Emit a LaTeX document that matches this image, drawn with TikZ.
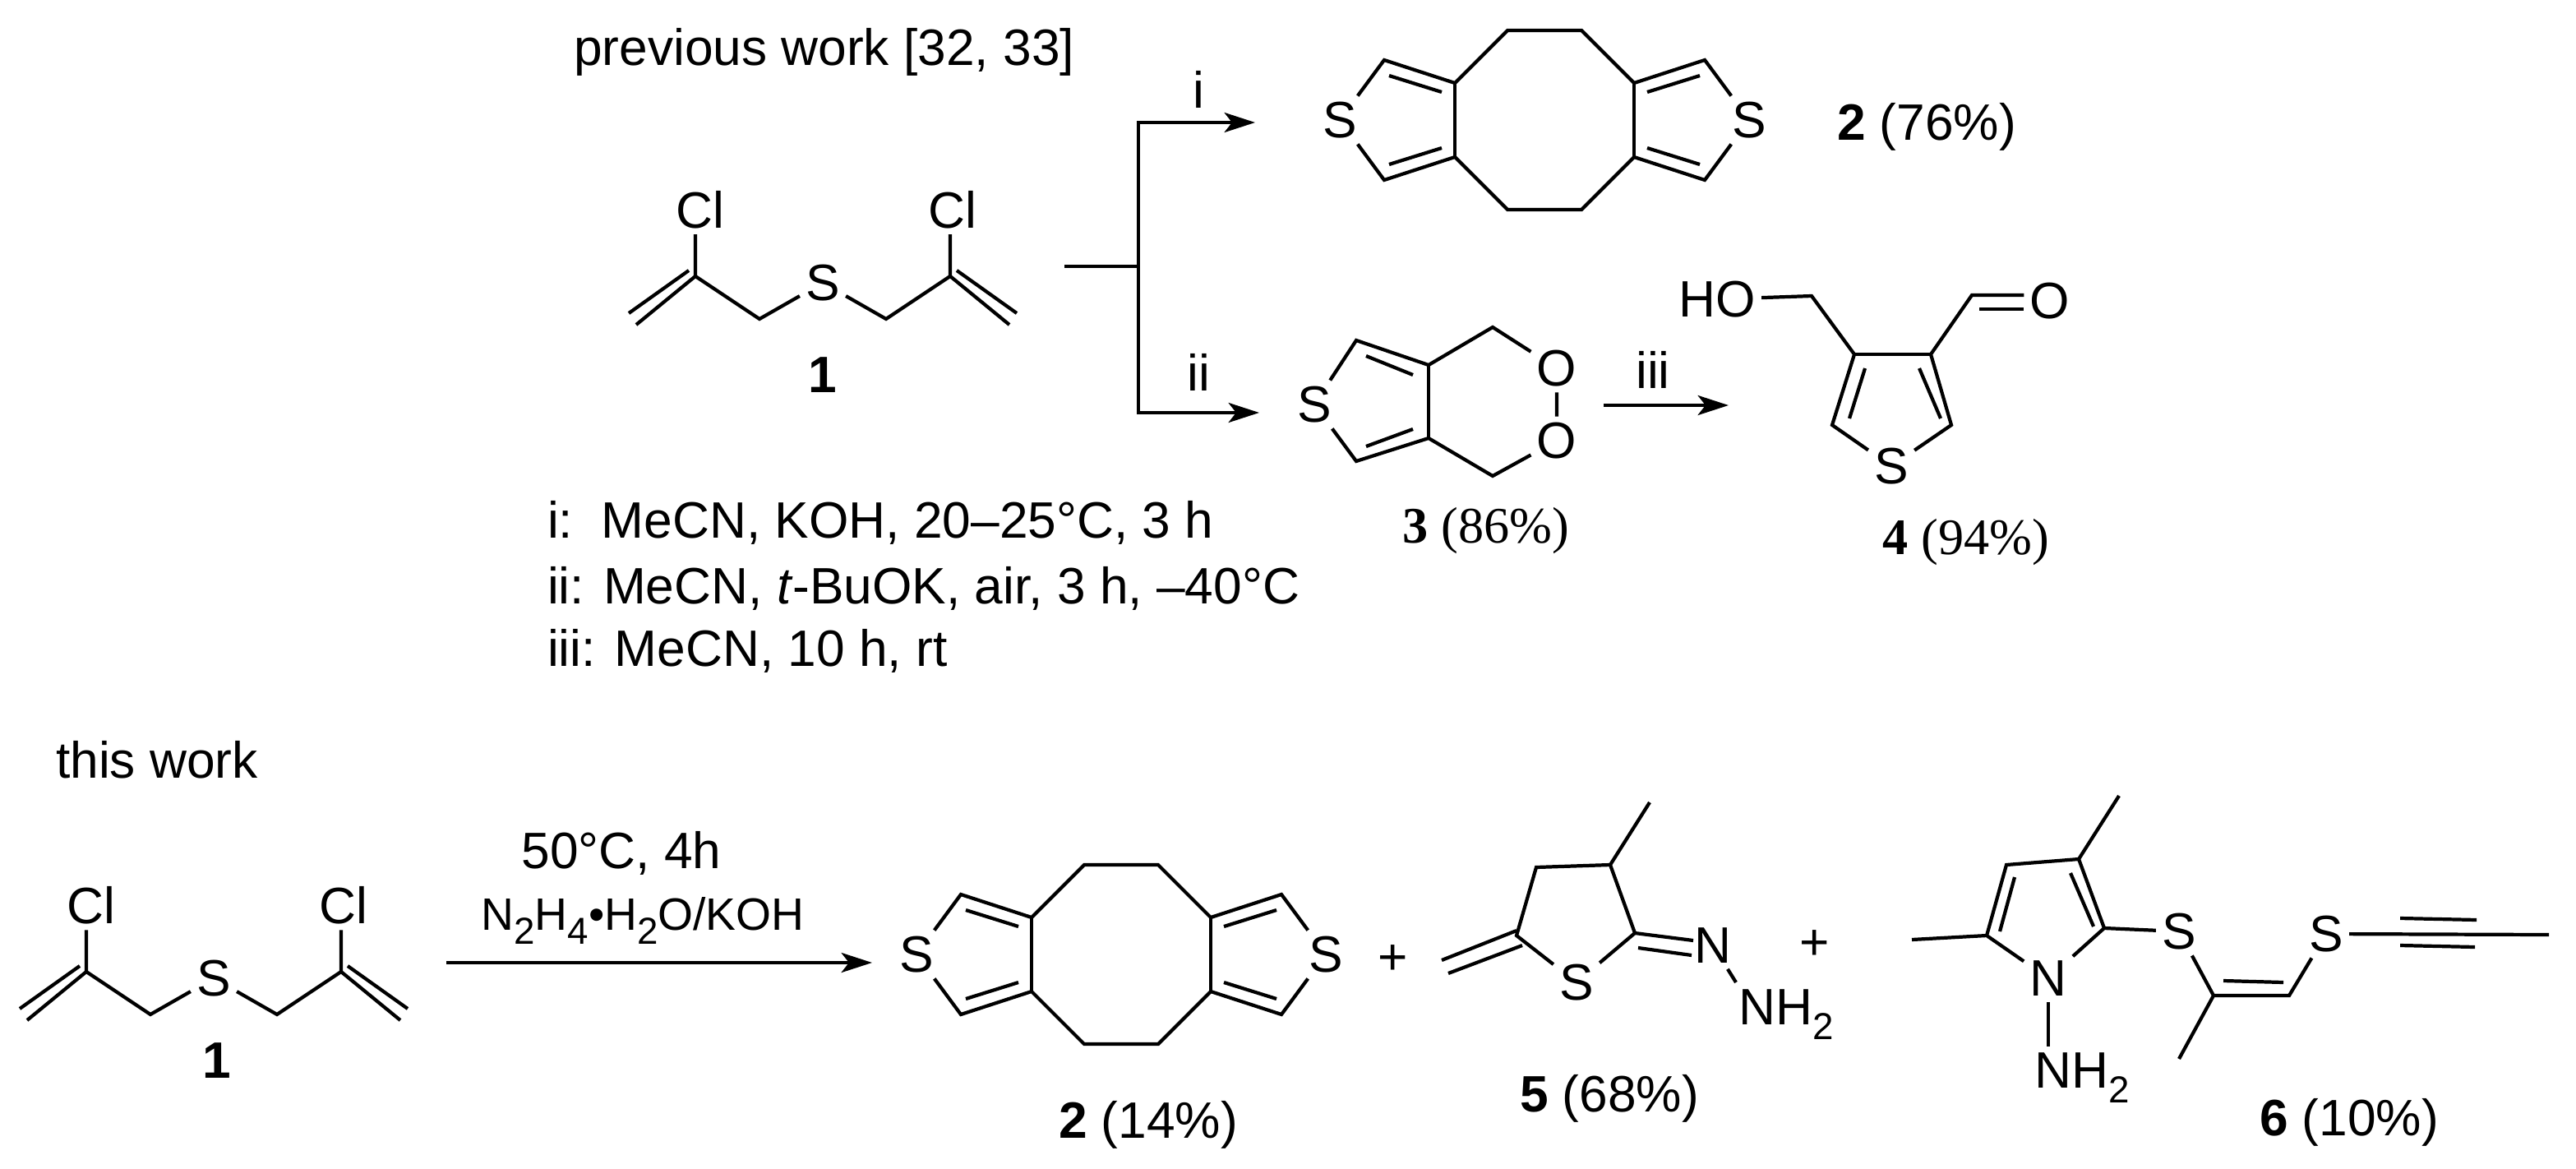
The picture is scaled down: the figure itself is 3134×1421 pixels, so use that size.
\documentclass[tikz,border=0pt]{standalone}
\usepackage{fontspec}
\setmainfont{Liberation Sans}
\newfontfamily\timesfont{Liberation Serif}
\usetikzlibrary{arrows.meta}

\newcommand{\sbs}[1]{\raisebox{-.3em}{\fontsize{13}{13}\selectfont #1}}
\tikzset{
  atom/.style={inner sep=1.5pt},
  rxn/.style={line width=1.3pt,-{Stealth[length=10.6pt,width=6.8pt,inset=2.6pt]}},
  txt/.style={anchor=west,inner sep=0pt}
}
% bis(thieno)cyclooctadiene, S atoms at +-249
\newcommand{\dithieno}{
  \node[atom] (sl) at (-249,0) {S};
  \node[atom] (sr) at (249,0) {S};
  \foreach \sy in {-1,1} {
    \draw (sl) -- (-195,\sy*73) -- (-109,\sy*45) -- (-45,\sy*109) -- (45,\sy*109)
      -- (109,\sy*45) -- (195,\sy*73) -- (sr);
    \foreach \sx in {-1,1}
      \draw (\sx*189,\sy*54) -- (\sx*125,\sy*34);
  }
  \draw (-109,-45) -- (-109,45);
  \draw (109,-45) -- (109,45);
}
% the sulfide 1, central S at the origin
\newcommand{\sulfide}{
  \node[atom] (s) at (0,0) {S};
  \node[atom] (cll) at (-149,-89) {Cl};
  \node[atom] (clr) at (158,-89) {Cl};
  \coordinate (cl) at (-155,-8);
  \coordinate (cr) at (155,-8);
  \draw (s) -- (-77,44) -- (cl) -- (cll.south -| cl);
  \draw (s) -- (77,44) -- (cr) -- (clr.south -| cr);
  \foreach \sx in {-1,1} {
    \draw (\sx*155,-8) -- (\sx*227,51);
    \draw (\sx*163,-15) -- (\sx*236,37);
  }
}

\begin{document}
\begin{tikzpicture}[x=0.01cm,y=-0.01cm,line width=1.2pt,
    every node/.style={font=\fontsize{17.7}{21}\selectfont}]
  \useasboundingbox (0,0) rectangle (3134,1421);

  \node[txt] (prev) at (696,63) {previous work [32, 33]};
  \begin{scope}[shift={(1001,344)},name prefix=a]
    \sulfide
  \end{scope}
  \node (onea) at (1001,456) {\textbf{1}};

  % branch
  \coordinate (stub) at (1295,324);
  \coordinate (jct) at (1385,324);
  \coordinate (endi) at (1527,149);
  \coordinate (endii) at (1532,502);
  \draw (stub) -- (jct);
  \draw[rxn] (jct) |- (endi);
  \draw[rxn] (jct) |- (endii);
  \node (li) at (1458,109) {i};
  \node (lii) at (1458,453) {ii};

  \begin{scope}[shift={(1879,146)},name prefix=b]
    \dithieno
  \end{scope}
  \node (twoa) at (2344,154) {\textbf{2} (76\%)};

  % peroxide 3
  \node[atom] (s3) at (1599,492) {S};
  \node[atom] (o1) at (1894,448) {O};
  \node[atom] (o2) at (1894,536) {O};
  \draw (s3) -- (1650,414) -- (1738,444) -- (1816,398) -- (o1) -- (o2)
    -- (1816,579) -- (1738,533) -- (1650,561) -- (s3);
  \draw (1738,444) -- (1738,533);
  \draw (1662,433) -- (1719,456);
  \draw (1662,543) -- (1719,522);
  \node (three) at (1808,646) {\timesfont\textbf{3} (86\%)};

  \coordinate (iiistart) at (1951,493);
  \coordinate (iiiend) at (2103,493);
  \draw[rxn] (iiistart) -- (iiiend);
  \node (liii) at (2011,450) {iii};

  % aldehyde 4
  \node[atom] (s4) at (2301,567) {S};
  \node[atom] (ho) at (2089,364) {HO};
  \node[atom] (o4) at (2494,366) {O};
  \coordinate (cho) at (2399,359);
  \coordinate (chob) at (2408,376);
  \draw (ho) -- (2204,360) -- (2256,431) -- (2229,517) -- (s4)
    -- (2374,517) -- (2349,431) -- (cho) -- (o4.west |- cho);
  \draw (2256,431) -- (2349,431);
  \draw (2269,448) -- (2250,509);
  \draw (2335,448) -- (2361,509);
  \draw (chob) -- (o4.west |- chob);
  \node (four) at (2392,660) {\timesfont\textbf{4} (94\%)};

  % conditions
  \node[txt] (ci) at (664,636) {i:\ \ MeCN, KOH, 20–25°C, 3 h};
  \node[txt] (cii) at (664,716) {ii: MeCN, \textit{t}-BuOK, air, 3 h, –40°C};
  \node[txt] (ciii) at (664,792) {iii: MeCN, 10 h, rt};

  % this work
  \node[txt] (this) at (66,924) {this work};
  \begin{scope}[shift={(260,1190)},name prefix=c]
    \sulfide
  \end{scope}
  \node (oneb) at (264,1290) {\textbf{1}};

  \coordinate (start) at (543,1171);
  \coordinate (finish) at (1061,1171);
  \draw[rxn] (start) -- (finish);
  \node (cond1) at (756,1038) {50°C, 4h};
  \node[font=\fontsize{15.7}{19}\selectfont] (cond2) at (782,1120)
    {N\sbs{2}H\sbs{4}\textbullet H\sbs{2}O/KOH};

  \begin{scope}[shift={(1364,1161)},name prefix=d]
    \dithieno
  \end{scope}
  \node (twob) at (1397,1368) {\textbf{2} (14\%)};
  \node (plusa) at (1695,1168) {+};

  % thiolane 5
  \node[atom] (s5) at (1918,1195) {S};
  \node[atom] (n5) at (2084,1150) {N};
  \node[atom,anchor=west] (nh5) at (2108,1234) {NH\sbs{2}};
  \coordinate (nn5) at (2112,1195);
  \draw (s5) -- (1845,1138) -- (1869,1055) -- (1959,1052) -- (1989,1135) -- (s5);
  \draw (1959,1052) -- (2007,976);
  \draw (1989,1135) -- (2060,1144);
  \draw (1993,1153) -- (2058,1162);
  \draw (1845,1132) -- (1754,1168);
  \draw (1852,1150) -- (1762,1184);
  \draw (n5) -- (nn5);
  \node (five) at (1958,1336) {\textbf{5} (68\%)};
  \node (plusb) at (2208,1150) {+};

  % pyrrole 6
  \node[atom] (n6) at (2492,1190) {N};
  \node[atom,anchor=west] (nh6) at (2468,1311) {NH\sbs{2}};
  \node[atom] (s61) at (2651,1133) {S};
  \node[atom] (s62) at (2830,1136) {S};
  \draw (2326,1143) -- (2417,1138) -- (2441,1052) -- (2529,1045) -- (2560,1129) -- (n6) -- (2417,1138);
  \draw (2529,1045) -- (2578,968);
  \draw (2560,1129) -- (s61) -- (2693,1211) -- (2785,1211) -- (s62) -- (3101,1137);
  \draw (2693,1211) -- (2651,1288);
  \draw (n6) -- (nh6.north -| n6);
  \draw (2451,1067) -- (2433,1133);
  \draw (2519,1062) -- (2547,1127);
  \draw (2705,1193) -- (2778,1195);
  \draw (2920,1117) -- (3013,1119);
  \draw (2920,1150) -- (3011,1152);
  \node (six) at (2858,1365) {\textbf{6} (10\%)};
\end{tikzpicture}
\end{document}
